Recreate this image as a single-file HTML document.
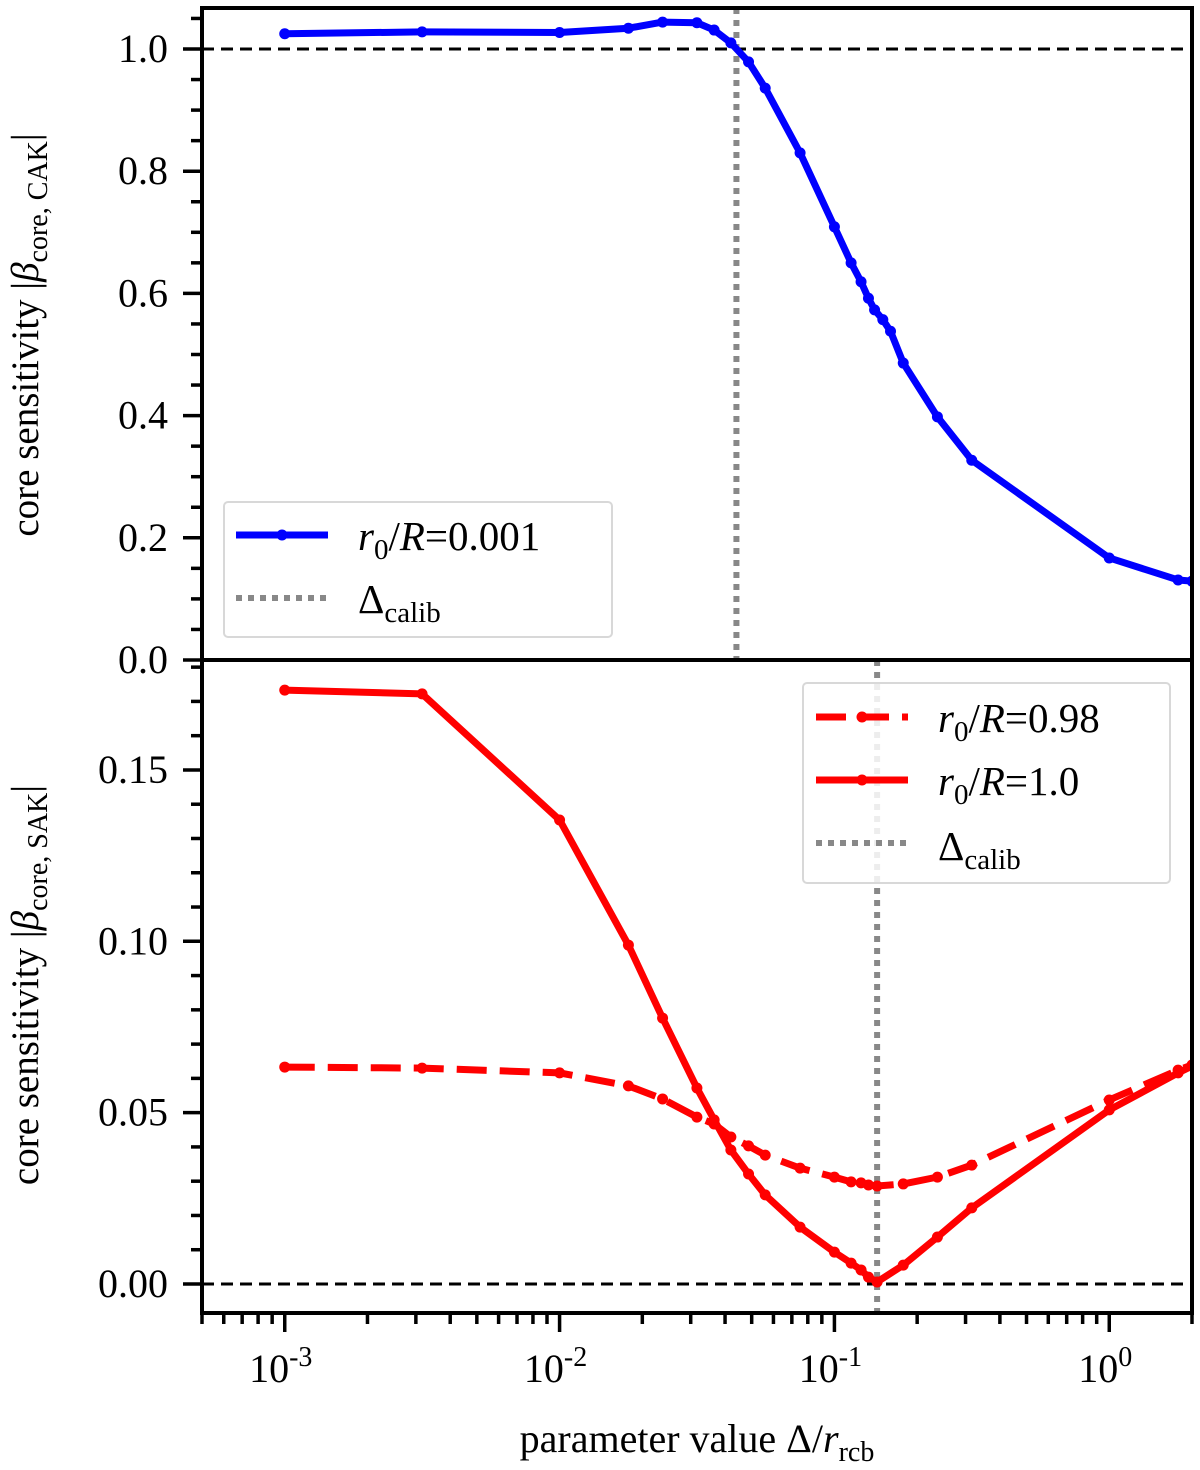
<!DOCTYPE html>
<html><head><meta charset="utf-8"><style>
body{margin:0;background:#fff}
svg text{font-family:"Liberation Serif","Times New Roman","DejaVu Serif",serif;fill:#000}
</style></head><body>
<svg id="c" width="1200" height="1465" xmlns="http://www.w3.org/2000/svg" font-family="Liberation Serif, Times New Roman, DejaVu Serif, serif">
<g id="g"></g>
</svg>
<script>
const xs = [0.001,0.00316,0.01,0.0178,0.0237,0.0316,0.0365,0.042,0.0487,0.056,0.075,0.1,0.115,0.125,0.133,0.14,0.15,0.16,0.178,0.237,0.316,1.0,1.78,2.0];
const cakVals = [1.025,1.028,1.027,1.034,1.044,1.043,1.031,1.010,0.979,0.936,0.830,0.709,0.650,0.619,0.592,0.573,0.557,0.538,0.486,0.398,0.327,0.167,0.131,0.129];
const xsR = [0.001,0.00316,0.01,0.0178,0.0237,0.0316,0.0365,0.042,0.0487,0.056,0.075,0.1,0.115,0.125,0.133,0.143,0.178,0.237,0.316,1.0,1.78,2.0];
const sakSolid = [0.1733,0.1722,0.1354,0.0989,0.0776,0.0572,0.0479,0.0391,0.0321,0.0260,0.0166,0.0093,0.0061,0.0041,0.0020,0.0006,0.0055,0.0137,0.0222,0.0508,0.0616,0.0636];
const sakDash = [0.0633,0.0630,0.0616,0.0578,0.0540,0.0487,0.0467,0.0429,0.0403,0.0376,0.0338,0.0312,0.0298,0.0295,0.0289,0.0286,0.0292,0.0312,0.0347,0.0537,0.0624,0.0639];
const calibTop = 0.044;
const calibBot = 0.143;
const topTicks = [0.0,0.2,0.4,0.6,0.8,1.0];
const topTickLabels = ["0.0","0.2","0.4","0.6","0.8","1.0"];
const botTicks = [0.00,0.05,0.10,0.15];
const botTickLabels = ["0.00","0.05","0.10","0.15"];
const xDecades = [-3,-2,-1,0];

const NS="http://www.w3.org/2000/svg";
const g=document.getElementById('g');
const L=202,R=1192,T1=8,B1=660,T2=660,B2=1313;
const xmin=Math.log10(0.0005),xmax=Math.log10(2.0);
const X=v=>L+(Math.log10(v)-xmin)/(xmax-xmin)*(R-L);
const Y1=v=>660-v*611;
const Y2=v=>1284-v*3427;
function el(t,a,p){const e=document.createElementNS(NS,t);for(const k in a)e.setAttribute(k,a[k]);(p||g).appendChild(e);return e;}
function line(x1,y1,x2,y2,s,w,d){return el('line',{x1,y1,x2,y2,stroke:s,'stroke-width':w,'stroke-dasharray':d||'none'});}

const defs=el('defs',{});
const c1=el('clipPath',{id:'cp1'},defs);el('rect',{x:L,y:T1,width:R-L,height:B1-T1},c1);
const c2=el('clipPath',{id:'cp2'},defs);el('rect',{x:L,y:T2,width:R-L,height:B2-T2},c2);

const p1=el('g',{'clip-path':'url(#cp1)'});


let e=el('line',{x1:L,y1:Y1(1),x2:R,y2:Y1(1),stroke:'#000','stroke-width':3,'stroke-dasharray':'12 7'},p1);


e=el('line',{x1:X(calibTop),y1:T1,x2:X(calibTop),y2:B1,stroke:'#888','stroke-width':6,'stroke-dasharray':'6 6'},p1);


e=el('polyline',{points:xs.map((x,i)=>X(x)+','+Y1(cakVals[i])).join(' '),fill:'none',stroke:'#0000ff','stroke-width':7,'stroke-linejoin':'round'},p1);


xs.forEach((x,i)=>{const c=el('circle',{cx:X(x),cy:Y1(cakVals[i]),r:5.5,fill:'#0000ff'},p1);

});

const p2=el('g',{'clip-path':'url(#cp2)'});


e=el('line',{x1:L,y1:Y2(0),x2:R,y2:Y2(0),stroke:'#000','stroke-width':3,'stroke-dasharray':'12 7'},p2);


e=el('line',{x1:X(calibBot),y1:T2,x2:X(calibBot),y2:B2,stroke:'#888','stroke-width':6,'stroke-dasharray':'6 6'},p2);


e=el('polyline',{points:xsR.map((x,i)=>X(x)+','+Y2(sakDash[i])).join(' '),fill:'none',stroke:'#ff0000','stroke-width':7,'stroke-dasharray':'30 13'},p2);


e=el('polyline',{points:xsR.map((x,i)=>X(x)+','+Y2(sakSolid[i])).join(' '),fill:'none',stroke:'#ff0000','stroke-width':7,'stroke-linejoin':'round'},p2);


xsR.forEach((x,i)=>{let c=el('circle',{cx:X(x),cy:Y2(sakDash[i]),r:5.5,fill:'#ff0000'},p2);


c=el('circle',{cx:X(x),cy:Y2(sakSolid[i]),r:5.5,fill:'#ff0000'},p2);

});

e=el('rect',{x:L,y:T1,width:R-L,height:B2-T1,fill:'none',stroke:'#000','stroke-width':4});


line(L-2,660,R+2,660,'#000',4);

for(let v=0;v<=1.06;v+=0.05){const maj=Math.abs(v*5-Math.round(v*5))<1e-6;line(maj?183:191,Y1(v),L,Y1(v),'#000',3.5);}
topTicks.forEach((v,i)=>{const t=el('text',{x:168,y:Y1(v)+13,'font-size':40,'text-anchor':'end'});t.textContent=topTickLabels[i];

});
for(let k=0;k<=18;k++){const v=k*0.01;const maj=k%5==0;line(maj?183:191,Y2(v),L,Y2(v),'#000',3.5);}
botTicks.forEach((v,i)=>{const t=el('text',{x:168,y:Y2(v)+13,'font-size':40,'text-anchor':'end'});t.textContent=botTickLabels[i];

});
for(let d=-4;d<=0;d++){for(let m=1;m<=9;m++){const v=m*Math.pow(10,d);if(v<0.0005||v>2)continue;const x=X(v);line(x,B2,x,B2+(m==1?19:11),'#000',3.5);}}
xDecades.forEach(d=>{const t=el('text',{x:X(Math.pow(10,d))-4,y:1382,'font-size':40,'text-anchor':'middle'});


t.innerHTML='10<tspan dy="-16" font-size="28">'+d+'</tspan>';});

let t=el('text',{x:697,y:1452,'font-size':40,'text-anchor':'middle'});


t.innerHTML='parameter value Δ/<tspan font-style="italic">r</tspan><tspan dy="9" font-size="28">rcb</tspan>';
t=el('text',{transform:'translate(38,335) rotate(-90)','font-size':39,'text-anchor':'middle'});


t.innerHTML='core sensitivity |<tspan font-style="italic">β</tspan><tspan dy="9" font-size="28">core, CAK</tspan><tspan dy="-9">|</tspan>';
t=el('text',{transform:'translate(38,985) rotate(-90)','font-size':39,'text-anchor':'middle'});


t.innerHTML='core sensitivity |<tspan font-style="italic">β</tspan><tspan dy="9" font-size="28">core, SAK</tspan><tspan dy="-9">|</tspan>';

function legendBox(x,y,w,h,name){const r=el('rect',{x,y,width:w,height:h,rx:4,fill:'#fff','fill-opacity':0.85,stroke:'#d8d8d8','stroke-width':2});

}
function ltext(x,y,html,name){const t=el('text',{x,y,'font-size':41});t.innerHTML=html;

}
const rlab=v=>'<tspan font-style="italic">r</tspan><tspan dy="9" font-size="29">0</tspan><tspan dy="-9">/</tspan><tspan font-style="italic">R</tspan>=<tspan>'+v+'</tspan>';
const clab='Δ<tspan dy="9" font-size="29">calib</tspan>';
legendBox(224,502,388,135,'legend-top');
line(236,535,328,535,'#0000ff',7);el('circle',{cx:282,cy:535,r:5.5,fill:'#0000ff'});
ltext(358,550,rlab('0.001'),'legend-entry-cak');
line(236,598,328,598,'#888',6,'6 6');
ltext(358,613,clab,'legend-entry-calib-top');
legendBox(803,683,367,200,'legend-bottom');
line(816,717,908,717,'#ff0000',7,'30 13');el('circle',{cx:862,cy:717,r:5.5,fill:'#ff0000'});
ltext(938,732,rlab('0.98'),'legend-entry-098');
line(816,780,908,780,'#ff0000',7);el('circle',{cx:862,cy:780,r:5.5,fill:'#ff0000'});
ltext(938,795,rlab('1.0'),'legend-entry-10');
line(816,843,908,843,'#888',6,'6 6');
ltext(938,860,clab,'legend-entry-calib-bottom');
</script>
</body></html>
